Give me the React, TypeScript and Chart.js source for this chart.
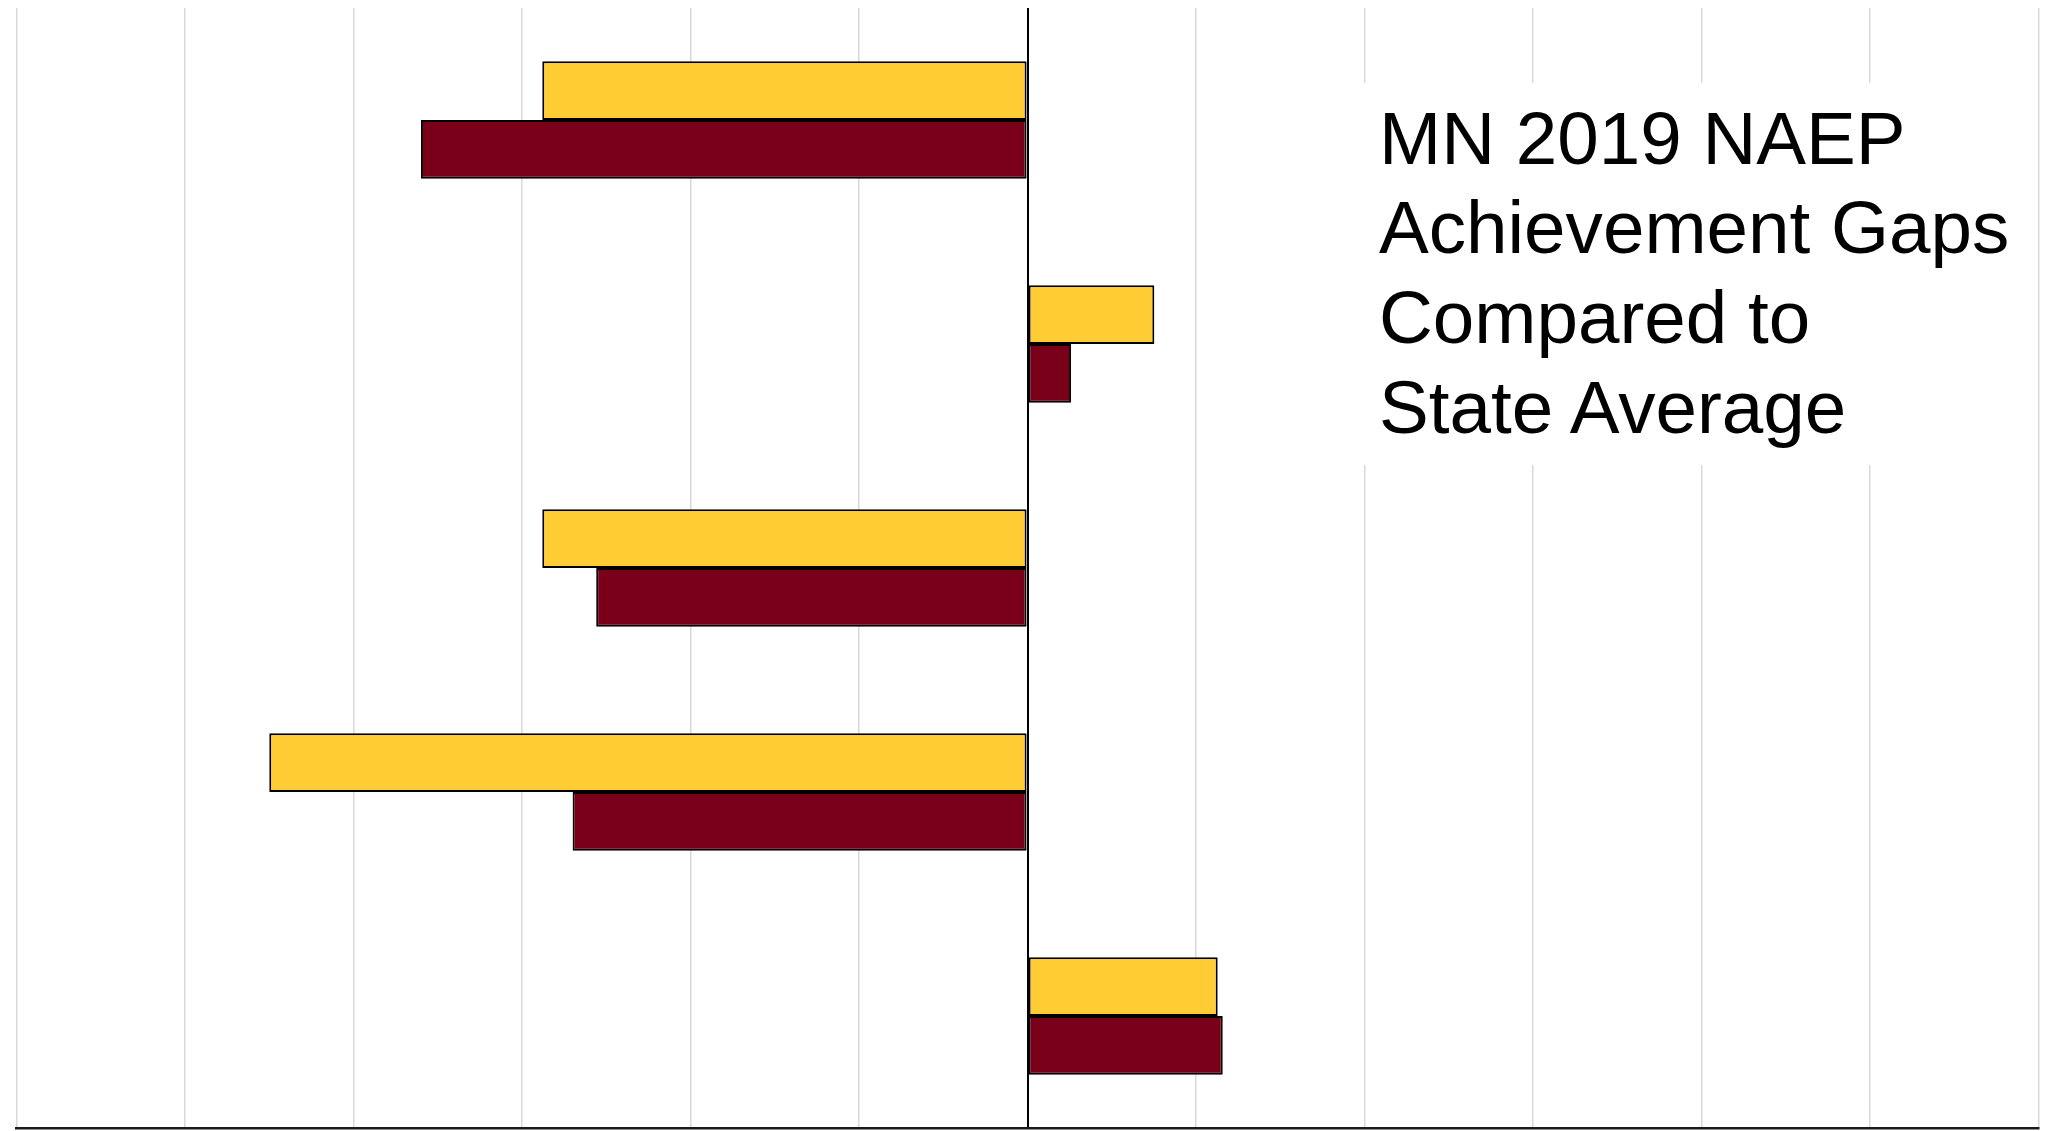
import React, { useEffect, useRef } from "react";
import { Chart, registerables } from "chart.js";

Chart.register(...registerables);

// Category groups (labels are not shown on the reference chart)
const categories = ["Group 1", "Group 2", "Group 3", "Group 4", "Group 5"];
// Series names (legend not shown on the reference chart)
const seriesNames = ["Series 1", "Series 2"];
// Gap values versus state average
const goldValues = [-14.4, 3.76, -14.4, -22.5, 5.64];
const maroonValues = [-18.0, 1.29, -12.8, -13.5, 5.79];
// Value axis range (tick labels hidden)
const axisMin = -30;
const axisMax = 30;
const axisStep = 5;
// Title text lines
const titleLines = ["MN 2019 NAEP", "Achievement Gaps", "Compared to", "State Average"];

export default function App() {
  const canvasRef = useRef<HTMLCanvasElement | null>(null);

  useEffect(() => {
    const canvas = canvasRef.current;
    if (!canvas) return;
    const chart = new Chart(canvas, {
      type: "bar",
      data: {
        labels: categories,
        datasets: [
          {
            label: seriesNames[0],
            data: goldValues,
            backgroundColor: "#FFCC33",
            borderColor: "#000000",
            borderWidth: 2,
            borderSkipped: false,
          },
          {
            label: seriesNames[1],
            data: maroonValues,
            backgroundColor: "#7A0019",
            borderColor: "#000000",
            borderWidth: 2,
            borderSkipped: false,
          },
        ],
      },
      options: {
        indexAxis: "y",
        responsive: false,
        maintainAspectRatio: false,
        animation: false,
        layout: { padding: { left: 16.5, right: 9.3, top: 8, bottom: 3 } },
        datasets: { bar: { categoryPercentage: 0.525, barPercentage: 1 } },
        plugins: {
          legend: { display: false },
          tooltip: { enabled: false },
          title: { display: false },
        },
        scales: {
          x: {
            min: axisMin,
            max: axisMax,
            ticks: { stepSize: axisStep, display: false },
            grid: {
              color: (ctx: any) => (ctx.tick && ctx.tick.value === 0 ? "#000000" : "#d9d9d9"),
              lineWidth: (ctx: any) => (ctx.tick && ctx.tick.value === 0 ? 2 : 1.5),
              drawTicks: false,
            },
            border: { display: true, color: "#1a1a1a", width: 2.5 },
          },
          y: { display: false },
        },
      },
    });
    return () => chart.destroy();
  }, []);

  return (
    <div style={{ position: "fixed", left: 0, top: 0, width: 2048, height: 1131, background: "#ffffff" }}>
      <canvas
        ref={canvasRef}
        width={2048}
        height={1131}
        style={{ position: "absolute", left: 0, top: 0, width: 2048, height: 1131, display: "block" }}
      />
      <div
        style={{
          position: "absolute",
          left: 1290,
          top: 83,
          width: 730,
          height: 382,
          background: "#ffffff",
        }}
      >
        <div
          style={{
            position: "absolute",
            left: 89,
            top: 10.5,
            fontFamily: '"Liberation Sans", Arial, sans-serif',
            fontSize: 74.6,
            lineHeight: "89.7px",
            color: "#000000",
            whiteSpace: "nowrap",
          }}
        >
          {titleLines.map((line) => (
            <div key={line}>{line}</div>
          ))}
        </div>
      </div>
    </div>
  );
}
